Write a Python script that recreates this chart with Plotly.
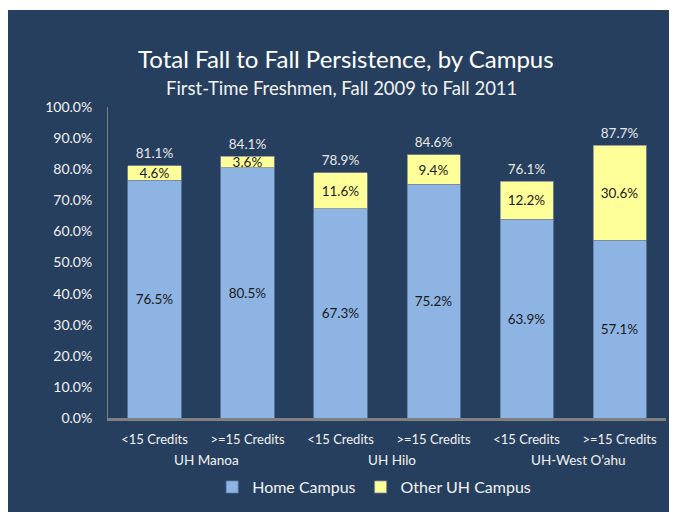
import plotly.graph_objects as go

campus = ["UH Manoa", "UH Manoa", "UH Hilo", "UH Hilo", "UH-West O\u2019ahu", "UH-West O\u2019ahu"]
credits = ["<15 Credits", ">=15 Credits", "<15 Credits", ">=15 Credits", "<15 Credits", ">=15 Credits"]
home_campus = [76.5, 80.5, 67.3, 75.2, 63.9, 57.1]
other_uh = [4.6, 3.6, 11.6, 9.4, 12.2, 30.6]
totals = [81.1, 84.1, 78.9, 84.6, 76.1, 87.7]
y_ticks = [0, 10, 20, 30, 40, 50, 60, 70, 80, 90, 100]

NAVY = "#263F5F"
FONT = "Lato"
ids = [f"{c}|{k}" for c, k in zip(campus, credits)]

fig = go.Figure()
fig.add_trace(go.Bar(
    x=ids, y=home_campus, name="Home Campus",
    marker=dict(color="#8EB4E3", line=dict(color="#5E7FA6", width=0.8)),
    text=[f"{v:.1f}%" for v in home_campus], textposition="inside",
    insidetextanchor="middle", textfont=dict(color="#1A1A1A", size=13.5, family=FONT),
    textangle=0,
))
fig.add_trace(go.Bar(
    x=ids, y=other_uh, name="Other UH Campus",
    marker=dict(color="#FFFF99", line=dict(color="#7F8A9A", width=0.8)),
    text=[f"{v:.1f}%" for v in other_uh], textposition="inside",
    insidetextanchor="middle", textfont=dict(color="#1A1A1A", size=13.5, family=FONT),
    textangle=0,
))
fig.add_trace(go.Scatter(
    x=ids, y=totals, mode="markers+text", showlegend=False,
    marker=dict(size=5, opacity=0),
    text=[f"{v:.1f}%" for v in totals], textposition="top center",
    textfont=dict(color="#E8E8E8", size=13.5, family=FONT), hoverinfo="skip",
))

fig.update_layout(
    width=669, height=504,
    barmode="stack", bargap=0.43,
    paper_bgcolor=NAVY, plot_bgcolor=NAVY,
    margin=dict(l=100, r=11, t=99, b=94, autoexpand=False),
    font=dict(family=FONT, color="#F2F2F2", size=13),
    uniformtext=dict(mode="show", minsize=13.5),
    title=dict(text="Total Fall to Fall Persistence, by Campus",
               x=0.505, xref="container", xanchor="center",
               y=0.897, yref="container", yanchor="middle",
               font=dict(size=24, color="white", family=FONT)),
    legend=dict(orientation="h", x=0.477, xanchor="center", y=-0.222, yanchor="middle",
                font=dict(size=16, color="#F2F2F2", family=FONT),
                bgcolor="rgba(0,0,0,0)", traceorder="normal"),
    showlegend=True,
)
fig.add_shape(type="rect", xref="paper", yref="paper",
              x0=-0.3, x1=1.2, y0=1.312, y1=1.4,
              fillcolor="white", line=dict(width=0), layer="below")
fig.add_annotation(text="First-Time Freshmen, Fall 2009 to Fall 2011",
                   xref="paper", yref="paper", x=0.419, y=1.061,
                   xanchor="center", yanchor="middle", showarrow=False,
                   font=dict(size=18.5, color="#F2F2F2", family=FONT))

# campus group labels centred under their categories
for name in dict.fromkeys(campus):
    idx = [i for i, c in enumerate(campus) if c == name]
    fig.add_annotation(text=name, xref="x", yref="paper",
                       x=sum(idx) / len(idx), y=-0.135, xshift=5,
                       xanchor="center", yanchor="middle", showarrow=False,
                       font=dict(size=13.5, color="#F2F2F2", family=FONT))

fig.update_yaxes(range=[0, 100], tickvals=y_ticks,
                 ticktext=[f"{v:.1f}%" for v in y_ticks],
                 showgrid=False, zeroline=False, automargin=False,
                 showline=True, linecolor="#7F7F7F", linewidth=1,
                 ticks="", ticklabelstandoff=12,
                 tickfont=dict(size=14, color="#F2F2F2"))
fig.update_xaxes(type="category", tickvals=ids, ticktext=credits,
                 showgrid=False, automargin=False,
                 showline=True, linecolor="#808080", linewidth=2.5,
                 ticks="outside", ticklen=8, tickcolor="rgba(0,0,0,0)",
                 tickfont=dict(size=13, color="#F2F2F2"))

fig.write_html("out.html",
               post_script="document.documentElement.style.overflow='hidden';"
                           "document.body.style.overflow='hidden';")
